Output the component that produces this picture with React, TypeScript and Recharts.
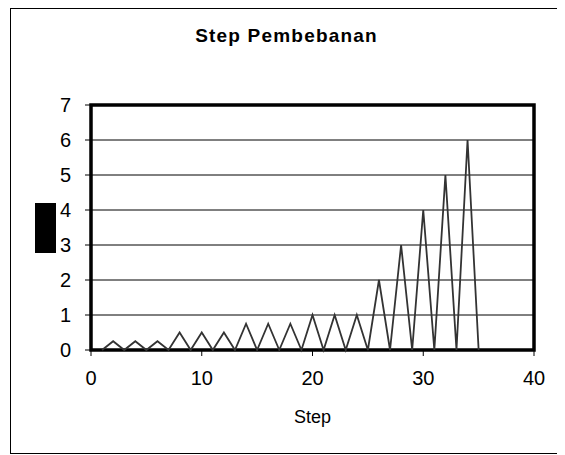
import { LineChart, Line, XAxis, YAxis, CartesianGrid, ReferenceArea } from "recharts";

// step number vs load level
const steps = [
  1, 2, 3, 4, 5, 6, 7, 8, 9, 10, 11, 12, 13, 14, 15, 16, 17, 18, 19, 20, 21, 22,
  23, 24, 25, 26, 27, 28, 29, 30, 31, 32, 33, 34, 35,
];
const loads = [
  0, 0.25, 0, 0.25, 0, 0.25, 0, 0.5, 0, 0.5, 0, 0.5, 0, 0.75, 0, 0.75, 0, 0.75,
  0, 1, 0, 1, 0, 1, 0, 2, 0, 3, 0, 4, 0, 5, 0, 6, 0,
];
const xTicks = [0, 10, 20, 30, 40];
const yTicks = [0, 1, 2, 3, 4, 5, 6, 7];

const data = steps.map((s, i) => ({ step: s, load: loads[i] }));

const FONT = "'Liberation Sans', Arial, sans-serif";

export default function App() {
  return (
    <div style={{ position: "relative", width: 557, height: 447, fontFamily: FONT, background: "#fff" }}>
      {/* outer frame */}
      <div
        style={{
          position: "absolute",
          left: 2,
          top: 0,
          width: 553,
          height: 446,
          border: "1px solid #000",
          boxSizing: "border-box",
        }}
      />

      {/* title */}
      <div
        style={{
          position: "absolute",
          left: 2,
          width: 553,
          top: 17,
          textAlign: "center",
          fontWeight: "bold",
          fontSize: 19,
          lineHeight: "22px",
          letterSpacing: 1.2,
          color: "#000",
        }}
      >
        Step Pembebanan
      </div>

      {/* blacked-out axis label */}
      <div style={{ position: "absolute", left: 27, top: 195, width: 21, height: 50, background: "#000" }} />

      <LineChart
        width={557}
        height={447}
        data={data}
        margin={{ top: 97, right: 31, left: 23, bottom: 25 }}
      >
        <CartesianGrid horizontal vertical={false} stroke="#000" strokeWidth={1} />
        <XAxis
          dataKey="step"
          type="number"
          domain={[0, 40]}
          ticks={xTicks}
          height={80}
          axisLine={false}
          tickLine={{ stroke: "#000" }}
          tickSize={6}
          tickMargin={15}
          tick={{ fontSize: 20, fill: "#000", fontFamily: FONT }}
        />
        <YAxis
          type="number"
          domain={[0, 7]}
          ticks={yTicks}
          width={60}
          axisLine={false}
          tickLine={{ stroke: "#000" }}
          tickSize={6}
          tickMargin={14}
          tick={{ fontSize: 20, fill: "#000", fontFamily: FONT }}
        />
        <ReferenceArea x1={0} x2={40} y1={0} y2={7} fill="none" stroke="#000" strokeWidth={3.5} />
        <Line
          type="linear"
          dataKey="load"
          stroke="#333"
          strokeWidth={1.8}
          dot={false}
          isAnimationActive={false}
        />
      </LineChart>

      {/* x axis title */}
      <div
        style={{
          position: "absolute",
          left: 83,
          width: 443,
          top: 398,
          textAlign: "center",
          fontSize: 18,
          lineHeight: "22px",
          color: "#000",
        }}
      >
        Step
      </div>
    </div>
  );
}
